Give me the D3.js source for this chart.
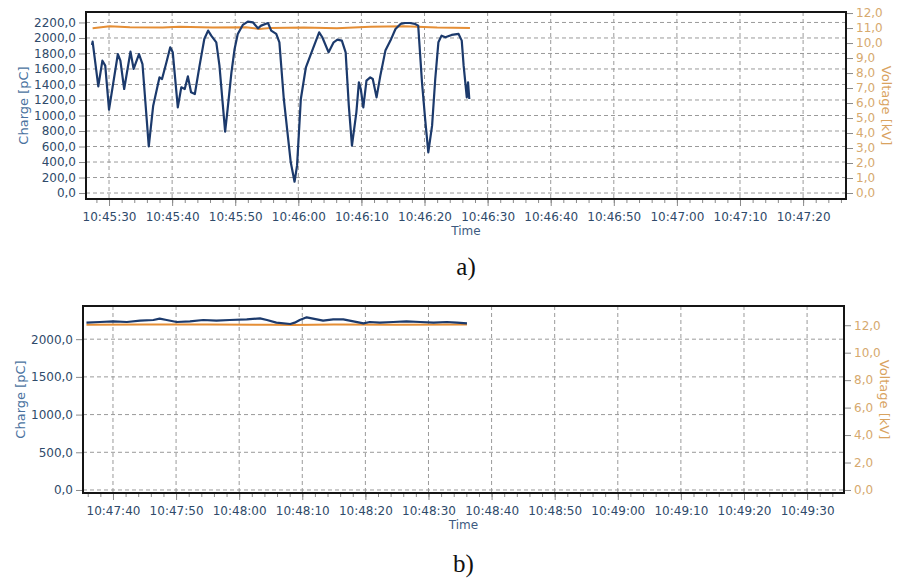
<!DOCTYPE html>
<html>
<head>
<meta charset="utf-8">
<script src="https://cdn.jsdelivr.net/npm/d3@7"></script>
<style>
  body { margin: 0; background: #fff; }
  svg { display: block; }
  text { font-family: "DejaVu Sans", Verdana, sans-serif; }
</style>
</head>
<body>
<svg id="chart" width="904" height="584"></svg>
<script>
// ---- panel a) : time in seconds after 10:45:30 ----
const chargeA_t = [-2.7, -2.6, -1.7, -1.05, -0.6, 0, 1.4, 1.8, 2.4, 3.4, 3.9, 4.75, 5.3, 6.3, 7.0, 8.0, 8.4, 9.1, 9.7, 10.1,
  10.9, 11.45, 12.0, 12.5, 13.0, 13.6, 14.35, 15.1, 15.7, 16.2, 17.0, 17.5, 18.4, 18.8, 19.4, 19.9, 20.4, 21.2, 22.0, 22.8,
  23.6, 24.1, 25.2, 25.7, 26.5, 27.0, 27.7, 28.8, 29.4, 29.8, 30.4, 31.2, 32.2, 33.3, 33.8, 34.8, 35.6, 36.2, 36.9, 37.5,
  38.0, 38.5, 39.2, 39.6, 39.9, 40.3, 40.8, 41.4, 41.8, 42.4, 43.0, 43.8, 44.6, 45.4, 46.2, 46.9, 47.7, 48.5, 49.0, 49.6,
  50.1, 50.6, 51.2, 51.7, 52.2, 52.7, 53.3, 54.3, 55.4, 55.9, 56.2, 56.7, 56.9, 57.1]
const chargeA_v = [1909, 1953, 1376, 1707, 1643, 1075, 1793, 1707, 1342, 1824, 1600, 1793, 1664, 602, 1127, 1492, 1471, 1686, 1879, 1815,
  1105, 1363, 1342, 1505, 1299, 1277, 1643, 1987, 2095, 2030, 1944, 1643, 791, 1084, 1557, 1858, 2052, 2168, 2211, 2202,
  2125, 2159, 2193, 2095, 2052, 1944, 1213, 396, 146, 353, 1213, 1622, 1837, 2073, 2009, 1815, 1944, 1978, 1966, 1815,
  1127, 611, 1041, 1428, 1342, 1105, 1449, 1492, 1471, 1234, 1514, 1837, 1966, 2116, 2181, 2193, 2193, 2181, 2159, 1428,
  955, 525, 869, 1471, 1944, 2030, 2009, 2039, 2052, 1966, 1643, 1234, 1428, 1213]
const voltA_t = [-2.6, 0.1, 3.3, 8.5, 11.1, 16.4, 21.7, 23.8, 25.5, 30.9, 36.1, 41.4, 46.7, 52.0, 57.2]
const voltA_v = [10.99, 11.12, 11.05, 11.04, 11.08, 11.04, 11.05, 10.94, 11.0, 11.04, 10.99, 11.08, 11.12, 11.04, 11.01]

// ---- panel b) : time in seconds after 10:47:40 ----
const chargeB_t = [-4.2, -2.06, 0.05, 2.2, 4.3, 6.4, 7.4, 8.5, 10.1, 12.2, 14.3, 16.4, 18.5, 21.2, 23.3, 24.4, 25.9, 28.1, 28.8,
  29.6, 30.7, 31.7, 33.3, 34.9, 36.5, 38.1, 39.7, 40.7, 42.3, 44.4, 46.5, 48.7, 50.8, 52.9, 54.5, 56.1]
const chargeB_v = [2219, 2228, 2237, 2228, 2246, 2254, 2272, 2254, 2228, 2237, 2254, 2246, 2254, 2263, 2276, 2254, 2219, 2201, 2219,
  2254, 2290, 2272, 2246, 2263, 2263, 2237, 2210, 2228, 2219, 2228, 2237, 2228, 2219, 2228, 2219, 2210]
const voltB_t = [-4.2, 5, 15, 25, 28.5, 35, 45, 56.1]
const voltB_v = [12.04, 12.05, 12.06, 12.03, 12.02, 12.06, 12.04, 12.05]

// ---- axis tick values ----
const chargeTicksA = [0, 200, 400, 600, 800, 1000, 1200, 1400, 1600, 1800, 2000, 2200]
const voltTicksA = [0, 1, 2, 3, 4, 5, 6, 7, 8, 9, 10, 11, 12]
const chargeTicksB = [0, 500, 1000, 1500, 2000]
const voltTicksB = [0, 2, 4, 6, 8, 10, 12]

const svg = d3.select('#chart')
const fmt1 = d => d3.format('.1f')(d).replace('.', ',')
const at = (h, m, s) => new Date(2012, 0, 1, h, m, s)
const shift = (base, sec) => new Date(base.getTime() + sec * 1000)

function panel (o) {
  const g = svg.append('g')
  const x = d3.scaleTime().domain(o.xDomain).range([o.left, o.right])
  const yL = d3.scaleLinear().domain(o.yLDomain).range([o.bottom, o.top])
  const yR = d3.scaleLinear().domain(o.yRDomain).range([o.bottom, o.top])
  const majors = x.ticks(d3.timeSecond.every(10))

  // grid
  g.selectAll('.hgrid').data(o.yLTicks).enter().append('line')
    .attr('x1', o.left).attr('x2', o.right)
    .attr('y1', d => yL(d)).attr('y2', d => yL(d))
    .attr('stroke', '#9a9a9a').attr('stroke-dasharray', '4,3')
  g.selectAll('.vgrid').data(majors).enter().append('line')
    .attr('x1', d => x(d)).attr('x2', d => x(d))
    .attr('y1', o.top).attr('y2', o.bottom)
    .attr('stroke', '#9a9a9a').attr('stroke-dasharray', '4,3')

  // series
  const volt = o.voltT.map((t, i) => [shift(o.base, t), o.voltV[i]])
  const charge = o.chargeT.map((t, i) => [shift(o.base, t), o.chargeV[i]])
  g.append('path').datum(volt)
    .attr('d', d3.line().x(d => x(d[0])).y(d => yR(d[1])))
    .attr('fill', 'none').attr('stroke', '#e58e35').attr('stroke-width', 2)
  g.append('path').datum(charge)
    .attr('d', d3.line().x(d => x(d[0])).y(d => yL(d[1])))
    .attr('fill', 'none').attr('stroke', '#1c3a6c').attr('stroke-width', 2.2)
    .attr('stroke-linejoin', 'round')

  // frame
  g.append('rect').attr('x', o.left).attr('y', o.top)
    .attr('width', o.right - o.left).attr('height', o.bottom - o.top)
    .attr('fill', 'none').attr('stroke', '#151515').attr('stroke-width', 2)

  // axes
  const left = g.append('g').attr('transform', `translate(${o.left - 1},0)`)
    .call(d3.axisLeft(yL).tickValues(o.yLTicks).tickFormat(fmt1).tickSize(6).tickPadding(3))
  left.selectAll('text').attr('fill', '#2f4a6a').style('font-size', '12px')
  const right = g.append('g').attr('transform', `translate(${o.right + 1},0)`)
    .call(d3.axisRight(yR).tickValues(o.yRTicks).tickFormat(fmt1).tickSize(6).tickPadding(3))
  right.selectAll('text').attr('fill', '#d6a96e').style('font-size', '12px')
  const bottom = g.append('g').attr('transform', `translate(0,${o.bottom + 1})`)
    .call(d3.axisBottom(x).tickValues(majors).tickFormat(d3.timeFormat('%H:%M:%S')).tickSize(6).tickPadding(6))
  bottom.selectAll('text').attr('fill', '#2f4a6a').style('font-size', '12px')
  const minor = g.append('g').attr('transform', `translate(0,${o.bottom + 1})`)
    .call(d3.axisBottom(x).ticks(d3.timeSecond.every(2)).tickFormat('').tickSize(3))
  ;[left, right, bottom, minor].forEach(a => {
    a.select('.domain').remove()
    a.selectAll('line').attr('stroke', '#8a8a8a')
  })

  // titles
  g.append('text').attr('transform', `translate(${o.titleX},${(o.top + o.bottom) / 2}) rotate(-90)`)
    .attr('text-anchor', 'middle').attr('dy', '0.35em')
    .attr('fill', '#4a72a0').style('font-size', '13px').text('Charge [pC]')
  g.append('text').attr('transform', `translate(${o.right + 41},${(o.top + o.bottom) / 2}) rotate(90)`)
    .attr('text-anchor', 'middle').attr('dy', '0.35em')
    .attr('fill', '#d9a35f').style('font-size', '13px').text('Voltage [kV]')
  g.append('text').attr('x', (o.left + o.right) / 2).attr('y', o.bottom + 36)
    .attr('text-anchor', 'middle').attr('fill', '#3d5a80').style('font-size', '12px').text('Time')
  g.append('text').attr('x', (o.left + o.right) / 2).attr('y', o.bottom + o.captionGap)
    .attr('text-anchor', 'middle').style('font-family', '"Liberation Serif", "Times New Roman", serif')
    .style('font-size', '25px').attr('fill', '#111').text(o.caption)
}

const baseA = at(10, 45, 30)
panel({
  base: baseA, left: 86, right: 846, top: 12, bottom: 199,
  xDomain: [shift(baseA, -3.65), shift(baseA, 116.8)],
  yLDomain: [-77, 2335], yRDomain: [-0.4, 12.07],
  yLTicks: chargeTicksA, yRTicks: voltTicksA,
  chargeT: chargeA_t, chargeV: chargeA_v, voltT: voltA_t, voltV: voltA_v,
  caption: 'a)', captionGap: 76, titleX: 23
})

const baseB = at(10, 47, 40)
panel({
  base: baseB, left: 83, right: 844, top: 306, bottom: 493,
  xDomain: [shift(baseB, -4.75), shift(baseB, 115.85)],
  yLDomain: [-40, 2440], yRDomain: [-0.22, 13.4],
  yLTicks: chargeTicksB, yRTicks: voltTicksB,
  chargeT: chargeB_t, chargeV: chargeB_v, voltT: voltB_t, voltV: voltB_v,
  caption: 'b)', captionGap: 79, titleX: 20
})
</script>
</body>
</html>
